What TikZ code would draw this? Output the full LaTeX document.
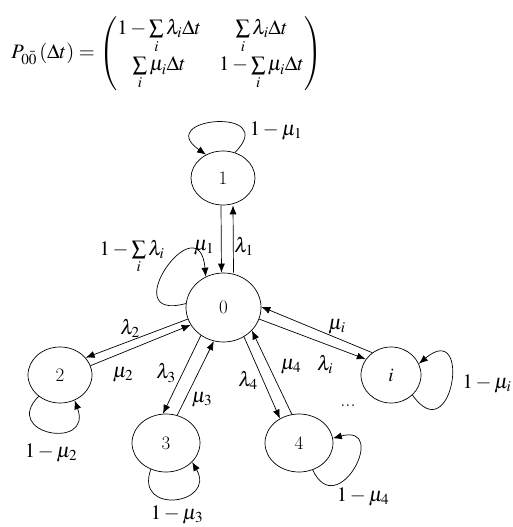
\documentclass[tikz,border=0pt]{standalone}
\usepackage{amsmath}
\usepackage{mathptmx}
\usetikzlibrary{arrows.meta,shapes.geometric}

\begin{document}
\begin{tikzpicture}[x=1pt, y=1pt, >={Latex[length=9pt,width=7pt]}, line width=0.7pt,
  every node/.style={font=\fontsize{19}{23}\selectfont},
  state/.style={draw, ellipse, inner sep=0pt},
  lbl/.style={inner sep=1pt, font=\fontsize{20.5}{24}\selectfont}]
\useasboundingbox (0,0) rectangle (513,527);

% transition matrix
\node[anchor=west, inner sep=0pt, font=\fontsize{20.5}{25}\selectfont] (pmat) at (11,473.5) {\setlength{\arraycolsep}{9pt}$P_{0\bar{0}}\left(\Delta t\right)=\begin{pmatrix}1-\sum\limits_i\lambda_i\Delta t & \sum\limits_i\lambda_i\Delta t\\ \sum\limits_i\mu_i\Delta t & 1-\sum\limits_i\mu_i\Delta t\end{pmatrix}$};

% states
\node[state, minimum width=64pt, minimum height=54pt] (s1) at (223,349) {1};
\node[state, minimum width=75pt, minimum height=69pt] (s0) at (223.5,219.5) {0};
\node[state, minimum width=64pt, minimum height=56pt] (s2) at (60,152) {2};
\node[state, minimum width=68pt, minimum height=58pt] (s3) at (166,84) {3};
\node[state, minimum width=68pt, minimum height=58pt] (s4) at (299,84) {4};
\node[state, minimum width=60pt, minimum height=56pt] (si) at (391,152) {$i$};

% self loops
\draw[->] (s1.65) to[out=45,in=145,looseness=5.8] (s1.126);
\draw[->] (s0.174) to[out=195,in=95,looseness=5.8] (s0.120);
\draw[->] (s2.225) to[out=225,in=-70,looseness=3.8] (s2.300);
\draw[->] (s3.240) to[out=250,in=-60,looseness=3.0] (s3.324);
\draw[->] (s4.297) to[out=295,in=15,looseness=4.0] (s4.8);
\draw[->] (si.317) to[out=305,in=40,looseness=5.6] (si.22);

% transitions
\draw[->] ([xshift=-2pt]s1.south) -- ([xshift=-2pt]s0.north);
\draw[->] ([xshift=10pt]s0.north) -- ([xshift=10pt]s1.south);
\draw[->] (s0.198) -- (s2.34);
\draw[->] (s2.17) -- (s0.208);
\draw[->] (s0.231) -- (s3.96);
\draw[->] (s3.68) -- (s0.254);
\draw[->] (s0.305) -- (s4.128);
\draw[->] (s4.104) -- (s0.321);
\draw[->] (si.130) -- (s0.1);
\draw[->] (s0.342) -- (si.148);

% labels
\node[lbl] (l1) at (276,396) {$1-\mu_1$};
\node[lbl] (l0) at (132,270) {$1-\sum\limits_i\lambda_i$};
\node[lbl] (l2) at (51,74) {$1-\mu_2$};
\node[lbl] (l3) at (177,12) {$1-\mu_3$};
\node[lbl] (l4) at (363,30) {$1-\mu_4$};
\node[lbl] (li) at (487,143) {$1-\mu_i$};
\node[lbl] (m1) at (204,279) {$\mu_1$};
\node[lbl] (a1) at (244,281) {$\lambda_1$};
\node[lbl] (a2) at (130,199) {$\lambda_2$};
\node[lbl] (m2) at (123,152) {$\mu_2$};
\node[lbl] (a3) at (166,154) {$\lambda_3$};
\node[lbl] (m3) at (202,127) {$\mu_3$};
\node[lbl] (a4) at (248,147) {$\lambda_4$};
\node[lbl] (m4) at (291,160) {$\mu_4$};
\node[lbl] (mi) at (337,200) {$\mu_i$};
\node[lbl] (ai) at (325,163) {$\lambda_i$};
\node[lbl] (dots) at (348,121) {...};
\end{tikzpicture}
\end{document}
